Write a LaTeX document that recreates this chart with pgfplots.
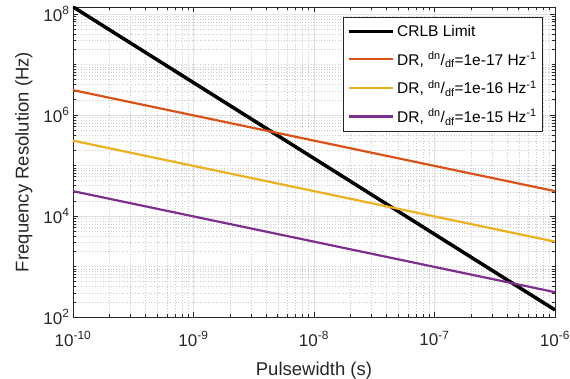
\documentclass[border=0pt]{standalone}
\usepackage{fontspec}
\setmainfont{Liberation Sans}
\usepackage{pgfplots}
\pgfplotsset{compat=1.18}
\definecolor{mlorange}{rgb}{0.85,0.325,0.098}
\definecolor{mlyellow}{rgb}{0.929,0.694,0.125}
\definecolor{mlpurple}{rgb}{0.494,0.184,0.556}
\definecolor{axgray}{rgb}{0.15,0.15,0.15}
\begin{document}
\begin{tikzpicture}
\begin{axis}[
  scale only axis, width=482pt, height=310pt,
  xmode=log, ymode=log,
  xmin=1e-10, xmax=1e-6, ymin=1e2, ymax=1.37e8,
  xtick={1e-10,1e-9,1e-8,1e-7,1e-6},
  xticklabels={10\textsuperscript{-10},10\textsuperscript{-9},10\textsuperscript{-8},10\textsuperscript{-7},10\textsuperscript{-6}},
  ytick={1e2,1e4,1e6,1e8},
  yticklabels={10\textsuperscript{2},10\textsuperscript{4},10\textsuperscript{6},10\textsuperscript{8}},
  minor xtick={2e-10,3e-10,4e-10,5e-10,6e-10,7e-10,8e-10,9e-10,
               2e-9,3e-9,4e-9,5e-9,6e-9,7e-9,8e-9,9e-9,
               2e-8,3e-8,4e-8,5e-8,6e-8,7e-8,8e-8,9e-8,
               2e-7,3e-7,4e-7,5e-7,6e-7,7e-7,8e-7,9e-7},
  minor ytick={2e2,3e2,4e2,5e2,6e2,7e2,8e2,9e2,
               1e3,2e3,3e3,4e3,5e3,6e3,7e3,8e3,9e3,
               2e4,3e4,4e4,5e4,6e4,7e4,8e4,9e4,
               1e5,2e5,3e5,4e5,5e5,6e5,7e5,8e5,9e5,
               2e6,3e6,4e6,5e6,6e6,7e6,8e6,9e6,
               1e7,2e7,3e7,4e7,5e7,6e7,7e7,8e7,9e7},
  grid=both,
  major grid style={color=black!12, line width=0.6pt},
  minor grid style={color=black!20, line width=0.4pt, dash pattern=on 0.7pt off 2pt},
  tick align=inside,
  major tick length=5pt, minor tick length=3pt,
  every tick/.style={axgray, line width=0.5pt},
  axis line style={axgray, line width=0.6pt},
  ticklabel style={font=\fontsize{17}{19}\selectfont, text=axgray},
  xticklabel style={yshift=-11pt},
  label style={font=\fontsize{18.5}{21}\selectfont, text=axgray},
  xlabel={Pulsewidth (s)},
  ylabel={Frequency Resolution (Hz)},
  xlabel style={yshift=-9pt},
  ylabel style={yshift=4pt},
  legend style={at={(rel axis cs:0.975,0.968)}, anchor=north east,
    font=\fontsize{15.5}{18}\selectfont, draw=axgray, line width=0.6pt,
    row sep=10pt, inner xsep=4pt, inner ysep=6pt,
    cells={anchor=west}},
  legend image code/.code={\draw[#1] plot coordinates {(0pt,0pt) (22pt,0pt) (44pt,0pt)};},
  clip=true,
]
\addplot[black, line width=3.5pt] coordinates {
 (1e-10,1.38e8) (1e-9,4.36e6) (1e-8,1.38e5) (1e-7,4.36e3) (1e-6,1.38e2)};
\addlegendentry{CRLB Limit}
\addplot[mlorange, line width=2.2pt] coordinates {
 (1e-10,3.1e6) (1e-9,9.8e5) (1e-8,3.1e5) (1e-7,9.8e4) (1e-6,3.1e4)};
\addlegendentry{DR, \textsuperscript{dn}/\textsubscript{df}=1e-17 Hz\textsuperscript{-1}}
\addplot[mlyellow, line width=2.2pt] coordinates {
 (1e-10,3.1e5) (1e-9,9.8e4) (1e-8,3.1e4) (1e-7,9.8e3) (1e-6,3.1e3)};
\addlegendentry{DR, \textsuperscript{dn}/\textsubscript{df}=1e-16 Hz\textsuperscript{-1}}
\addplot[mlpurple, line width=2.2pt] coordinates {
 (1e-10,3.1e4) (1e-9,9.8e3) (1e-8,3.1e3) (1e-7,9.8e2) (1e-6,3.1e2)};
\addlegendentry{DR, \textsuperscript{dn}/\textsubscript{df}=1e-15 Hz\textsuperscript{-1}}
\end{axis}
\pgfresetboundingbox
\path ([shift={(-73pt,-62pt)}]current axis.south west) rectangle ([shift={(15pt,7pt)}]current axis.north east);
\end{tikzpicture}
\end{document}
